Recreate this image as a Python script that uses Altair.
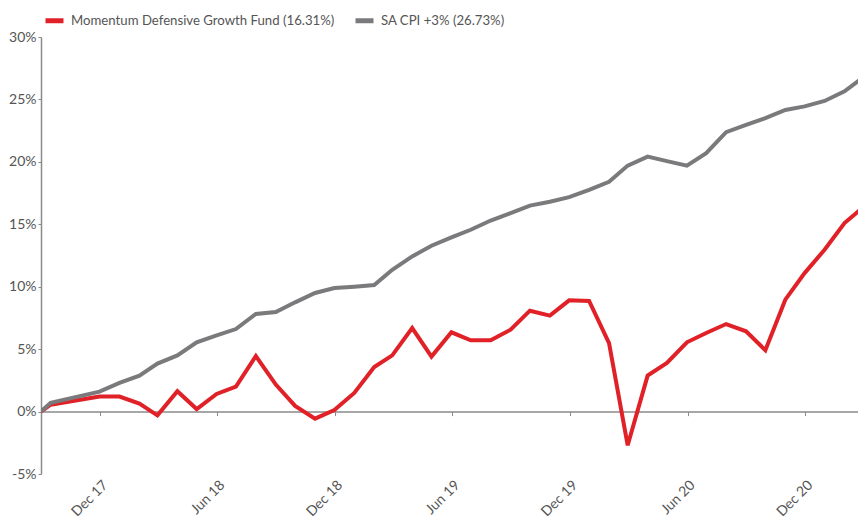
import altair as alt
import pandas as pd

# ---- data ----
dates = [
    "2017-08-31", "2017-09-15", "2017-11-30", "2017-12-31",
    "2018-01-31", "2018-02-28", "2018-03-31", "2018-04-30", "2018-05-31", "2018-06-30",
    "2018-07-31", "2018-08-31", "2018-09-30", "2018-10-31", "2018-11-30", "2018-12-31",
    "2019-01-31", "2019-02-28", "2019-03-31", "2019-04-30", "2019-05-31", "2019-06-30",
    "2019-07-31", "2019-08-31", "2019-09-30", "2019-10-31", "2019-11-30", "2019-12-31",
    "2020-01-31", "2020-02-29", "2020-03-31", "2020-04-30", "2020-05-31", "2020-06-30",
    "2020-07-31", "2020-08-31", "2020-09-30", "2020-10-31", "2020-11-30", "2020-12-31",
    "2021-01-31", "2021-02-28",
]
fund = [
    0.0, 0.55, 1.2, 1.2,
    0.64, -0.3, 1.63, 0.2, 1.41, 2.0,
    4.45, 2.16, 0.45, -0.57, 0.12, 1.49,
    3.57, 4.5, 6.69, 4.4, 6.35, 5.71,
    5.71, 6.56, 8.08, 7.68, 8.91, 8.86,
    5.49, -2.7, 2.88, 3.89, 5.55, 6.29,
    7.01, 6.43, 4.91, 8.96, 11.09, 12.96,
    15.1, 16.31,
]
cpi = [
    0.0, 0.7, 1.6, 2.29,
    2.88, 3.84, 4.5, 5.55, 6.1, 6.61,
    7.82, 7.97, 8.75, 9.5, 9.9, 10.0,
    10.13, 11.36, 12.43, 13.28, 13.95, 14.56,
    15.3, 15.9, 16.5, 16.8, 17.17, 17.76,
    18.4, 19.7, 20.42, 20.06, 19.7, 20.7,
    22.38, 22.96, 23.5, 24.16, 24.44, 24.88,
    25.65, 26.73,
]
series_names = ["Momentum Defensive Growth Fund (16.31%)", "SA CPI +3% (26.73%)"]
series_colors = ["#e02128", "#7a7a7c"]
y_ticks = [-5, 0, 5, 10, 15, 20, 25, 30]
x_tick_months = [(2017, 12), (2018, 6), (2018, 12), (2019, 6), (2019, 12), (2020, 6), (2020, 12)]

rows = []
for d, f, c in zip(dates, fund, cpi):
    rows.append({"date": d, "series": series_names[0], "value": f})
    rows.append({"date": d, "series": series_names[1], "value": c})
df = pd.DataFrame(rows)

x_values = [alt.DateTime(year=y, month=m, date=1, utc=True) for y, m in x_tick_months]
x_domain = [alt.DateTime(year=2017, month=8, date=31, utc=True),
            alt.DateTime(year=2021, month=2, date=21, utc=True)]

FONT = "Lato"
TXT = "#555555"
AX = "#8a8a8a"

x_enc = alt.X(
    "date:T",
    scale=alt.Scale(type="utc", domain=x_domain),
    axis=alt.Axis(
        values=x_values, labelExpr="utcFormat(datum.value, '%b %y')",
        labelAngle=-45, labelAlign="right", labelBaseline="middle",
        labelPadding=67, labelOffset=5, offset=-62.4,
        domainColor=AX, domainWidth=1.5,
        tickColor=AX, tickSize=4, tickWidth=1,
        labelFont=FONT, labelFontSize=14, labelColor=TXT,
        grid=False, title=None,
    ),
)
y_enc = alt.Y(
    "value:Q",
    scale=alt.Scale(domain=[-5, 30], nice=False, zero=False),
    axis=alt.Axis(
        values=y_ticks, labelExpr="datum.value + '%'",
        domainColor=AX, domainWidth=1.5,
        tickColor=AX, tickSize=3, tickWidth=1,
        labelFont=FONT, labelFontSize=14, labelColor=TXT, labelPadding=2,
        grid=False, title=None,
    ),
)

chart = alt.Chart(df).mark_line(strokeWidth=4, clip=True).encode(
    x=x_enc,
    y=y_enc,
    color=alt.Color(
        "series:N",
        scale=alt.Scale(domain=series_names, range=series_colors),
        legend=alt.Legend(
            orient="none", legendX=2, legendY=-28, direction="horizontal",
            title=None, symbolType="stroke", symbolSize=324, symbolStrokeWidth=5,
            labelFont=FONT, labelFontSize=13.2, labelColor=TXT, labelLimit=0,
            columnPadding=10, labelOffset=5,
        ),
    ),
    order=alt.Order("date:T"),
).properties(
    width=817, height=437,
    padding={"left": 41, "top": 37, "right": 0, "bottom": 49},
    autosize=alt.AutoSizeParams(type="none"),
).configure_view(stroke=None)

chart.save("out.html", embed_options={"renderer": "svg", "actions": False})
